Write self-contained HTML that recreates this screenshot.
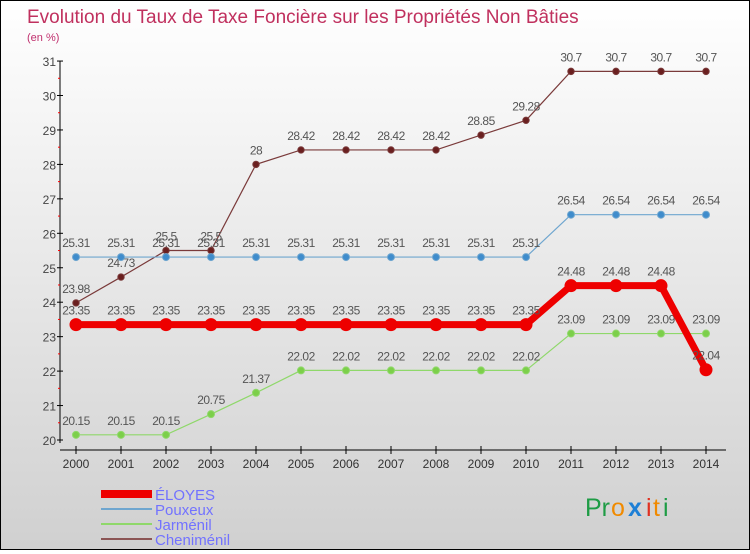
<!DOCTYPE html>
<html><head><meta charset="utf-8"><style>
html,body{margin:0;padding:0}
body{width:750px;height:550px;overflow:hidden;font-family:"Liberation Sans",sans-serif}
#c{position:absolute;left:0;top:0;width:748px;height:548px;border:1px solid #000;background:linear-gradient(#fff,#d0d0d0)}
</style></head><body>
<div id="c">
<svg id="s" width="748" height="548" xmlns="http://www.w3.org/2000/svg">
<text x="26" y="22" font-size="19" fill="#c0305e">Evolution du Taux de Taxe Foncière sur les Propriétés Non Bâties</text>
<text x="26" y="40" font-size="11" fill="#c0306e">(en %)</text>
<g id="axes"></g><g id="series"></g>
<g>
<rect x="100" y="489" width="51" height="8" fill="#e00"/>
<text x="154" y="499" font-size="15" fill="#7272ff">ÉLOYES</text>
<rect x="100" y="507" width="51" height="2" fill="#6fa6cf"/>
<text x="154" y="514" font-size="15" fill="#7272ff">Pouxeux</text>
<rect x="100" y="522" width="51" height="2" fill="#8fd86a"/>
<text x="154" y="529" font-size="15" fill="#7272ff">Jarménil</text>
<rect x="100" y="537" width="51" height="2" fill="#8b5555"/>
<text x="154" y="544" font-size="15" fill="#7272ff">Cheniménil</text>
</g>
<g font-size="25">
<text x="584" y="515" fill="#1e9c45">Pr</text><text x="610" y="515" fill="#f08a00">o</text><text x="627" y="515" fill="#1d7fd6" font-weight="bold">x</text><text x="645" y="515" fill="#e03020">i</text><text x="652" y="515" fill="#f08a00">t</text><text x="662" y="515" fill="#1e9c45">i</text>
</g>
</svg></div>
<script>
const years=[2000,2001,2002,2003,2004,2005,2006,2007,2008,2009,2010,2011,2012,2013,2014];
const yTicks=[20,21,22,23,24,25,26,27,28,29,30,31];
const eloyes=[23.35,23.35,23.35,23.35,23.35,23.35,23.35,23.35,23.35,23.35,23.35,24.48,24.48,24.48,22.04];
const pouxeux=[25.31,25.31,25.31,25.31,25.31,25.31,25.31,25.31,25.31,25.31,25.31,26.54,26.54,26.54,26.54];
const jarmenil=[20.15,20.15,20.15,20.75,21.37,22.02,22.02,22.02,22.02,22.02,22.02,23.09,23.09,23.09,23.09];
const chenimenil=[23.98,24.73,25.5,25.5,28,28.42,28.42,28.42,28.42,28.85,29.28,30.7,30.7,30.7,30.7];
const NS="http://www.w3.org/2000/svg";
const xs=i=>75+45*i, ys=v=>439-(v-20)*34.45;
function mk(t,a,p){const e=document.createElementNS(NS,t);for(const k in a)e.setAttribute(k,a[k]);p.appendChild(e);return e;}
const ax=document.getElementById('axes');
const yl=mk('line',{x1:59,y1:ys(31),x2:59,y2:ys(20)+3,stroke:'#000'},ax);


yTicks.forEach(v=>{
 mk('line',{x1:56,y1:ys(v),x2:62,y2:ys(v),stroke:'#000'},ax);
 if(v<31) mk('line',{x1:57,y1:ys(v+0.5),x2:59,y2:ys(v+0.5),stroke:'#f00'},ax);
 const t=mk('text',{x:55,y:ys(v)+5,'text-anchor':'end','font-size':12,fill:'#444'},ax);t.textContent=v;
 
 
});
const xl=mk('line',{x1:59,y1:449,x2:725,y2:449,stroke:'#000'},ax);


years.forEach((y,i)=>{
 mk('line',{x1:xs(i),y1:445,x2:xs(i),y2:453,stroke:'#000'},ax);
 const t=mk('text',{x:xs(i),y:467,'text-anchor':'middle','font-size':12,fill:'#333'},ax);t.textContent=y;
 
 
});
const sg=document.getElementById('series');
function series(vals,name,col,dot,w,r){
 const g=mk('g',{},sg);
 
 
 mk('polyline',{points:vals.map((v,i)=>xs(i)+','+ys(v)).join(' '),fill:'none',stroke:col,'stroke-width':w},g);
 vals.forEach((v,i)=>{
  const c=mk('circle',{cx:xs(i),cy:ys(v),r:r,fill:dot,stroke:col,'stroke-width':1},g);
  
  
  const t=mk('text',{x:xs(i),y:ys(v)-10,'text-anchor':'middle','font-size':12,fill:'#555','letter-spacing':'-0.5'},g);
  t.textContent=String(v);
  
  
 });
}
series(chenimenil,'chenimenil','#7a3a3a','#6a1f1f',1.2,3.2);
series(pouxeux,'pouxeux','#6fa6cf','#3f8ccc',1.2,3.5);
series(jarmenil,'jarmenil','#8fd86a','#7ccf4a',1.2,3.5);
series(eloyes,'eloyes','#e00','#e00',7,6);
</script>
</body></html>
